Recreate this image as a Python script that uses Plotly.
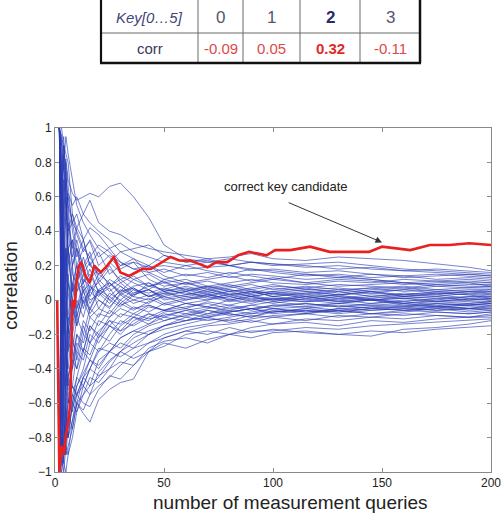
import plotly.graph_objects as go

# ---------------- data ----------------
table_keys = ["0", "1", "2", "3"]
table_corr = ["-0.09", "0.05", "0.32", "-0.11"]
correct_index = 2

x_ticks = [0, 50, 100, 150, 200]

# sample positions (number of measurement queries) for the wrong-key curves
queries = [2, 3, 4, 5, 6, 8, 10, 13, 16, 20, 25, 30, 36, 43, 50, 60, 70, 80, 90, 100,
           115, 130, 145, 160, 175, 190, 200]

cand_01 = [1, 0.9, 0.75, 0.82, 0.7, 0.62, 0.58, 0.6, 0.62, 0.6, 0.66, 0.68, 0.6, 0.48, 0.32, 0.24, 0.22, 0.2, 0.18, 0.17, 0.15, 0.14, 0.12, 0.1, 0.09, 0.1, 0.08]
cand_02 = [-1, -0.6, 0.2, 0.5, 0.62, 0.55, 0.6, 0.5, 0.58, 0.45, 0.4, 0.38, 0.33, 0.3, 0.28, 0.26, 0.24, 0.25, 0.27, 0.24, 0.23, 0.25, 0.24, 0.23, 0.21, 0.19, 0.17]
cand_03 = [1, 0.95, 0.8, 0.6, 0.4, 0.45, 0.5, 0.35, 0.42, 0.38, 0.3, 0.33, 0.28, 0.25, 0.22, 0.2, 0.22, 0.24, 0.22, 0.2, 0.21, 0.22, 0.2, 0.18, 0.17, 0.16, 0.15]
cand_04 = [-1, 0.3, 0.7, 0.55, 0.3, 0.35, 0.2, 0.3, 0.25, 0.32, 0.28, 0.2, 0.22, 0.19, 0.2, 0.18, 0.19, 0.2, 0.17, 0.18, 0.16, 0.17, 0.15, 0.14, 0.15, 0.14, 0.13]
cand_05 = [1, 0.5, -0.2, 0.1, 0.4, 0.5, 0.38, 0.28, 0.35, 0.25, 0.3, 0.22, 0.18, 0.2, 0.16, 0.2, 0.17, 0.15, 0.18, 0.16, 0.14, 0.15, 0.13, 0.14, 0.12, 0.13, 0.12]
cand_06 = [-1, -0.9, -0.3, 0.2, 0.45, 0.3, 0.42, 0.35, 0.2, 0.28, 0.15, 0.2, 0.24, 0.16, 0.12, 0.15, 0.13, 0.16, 0.14, 0.12, 0.15, 0.13, 0.12, 0.1, 0.11, 0.12, 0.11]
cand_07 = [1, 0.7, 0.9, 0.75, 0.5, 0.2, 0.3, 0.15, 0.22, 0.1, 0.18, 0.12, 0.15, 0.2, 0.14, 0.1, 0.12, 0.14, 0.11, 0.13, 0.1, 0.12, 0.11, 0.09, 0.1, 0.11, 0.10]
cand_08 = [-1, 0.2, 0.4, 0.1, 0.3, 0.15, 0.1, 0.25, 0.12, 0.18, 0.08, 0.14, 0.1, 0.06, 0.12, 0.09, 0.11, 0.08, 0.1, 0.12, 0.1, 0.08, 0.09, 0.1, 0.08, 0.09, 0.09]
cand_09 = [1, 0.8, 0.3, -0.1, 0.2, 0.35, 0.1, 0.2, 0.05, 0.15, 0.1, 0.05, 0.12, 0.08, 0.06, 0.1, 0.07, 0.09, 0.06, 0.08, 0.07, 0.09, 0.08, 0.07, 0.09, 0.08, 0.08]
cand_10 = [-1, -0.5, 0.4, 0.6, 0.25, 0.05, 0.2, 0.1, 0.18, 0.04, 0.12, 0.08, 0.02, 0.1, 0.05, 0.08, 0.05, 0.07, 0.09, 0.06, 0.08, 0.06, 0.07, 0.08, 0.06, 0.07, 0.08]
cand_11 = [1, 0.6, 0.85, 0.4, 0.1, -0.1, 0.05, 0.15, 0.02, 0.12, 0.05, 0.1, 0.04, 0.08, 0.1, 0.06, 0.08, 0.05, 0.07, 0.09, 0.06, 0.07, 0.05, 0.06, 0.08, 0.07, 0.07]
cand_12 = [-1, -0.8, -0.9, -0.4, -0.1, 0.2, 0.3, 0.1, 0.15, 0.05, 0.08, 0.12, 0.06, 0.04, 0.07, 0.03, 0.06, 0.08, 0.05, 0.04, 0.06, 0.05, 0.07, 0.05, 0.06, 0.05, 0.06]
cand_13 = [1, 0.4, 0.1, 0.3, -0.2, 0.1, -0.05, 0.12, 0.08, 0.02, 0.1, 0.04, 0.08, 0.1, 0.05, 0.07, 0.04, 0.06, 0.03, 0.05, 0.07, 0.04, 0.06, 0.07, 0.05, 0.06, 0.06]
cand_14 = [-1, 0.1, -0.3, -0.5, -0.2, 0.1, 0.2, 0.05, -0.05, 0.06, 0.02, 0.08, 0.03, 0.06, 0.02, 0.05, 0.07, 0.03, 0.05, 0.02, 0.04, 0.06, 0.04, 0.03, 0.05, 0.04, 0.05]
cand_15 = [1, 0.95, 0.6, 0.2, 0.3, 0.05, 0.12, -0.02, 0.06, 0.1, 0.0, 0.05, 0.07, 0.02, 0.06, 0.04, 0.02, 0.05, 0.06, 0.03, 0.05, 0.03, 0.04, 0.06, 0.04, 0.05, 0.05]
cand_16 = [-1, -0.7, 0.1, -0.2, 0.15, -0.1, 0.05, 0.1, 0.0, 0.03, 0.07, -0.02, 0.04, 0.06, 0.01, 0.03, 0.05, 0.02, 0.04, 0.05, 0.03, 0.05, 0.02, 0.04, 0.03, 0.05, 0.04]
cand_17 = [1, 0.3, 0.5, 0.7, 0.4, 0.2, -0.1, 0.05, 0.1, -0.05, 0.04, 0.0, 0.06, 0.02, 0.05, 0.0, 0.03, 0.05, 0.02, 0.04, 0.02, 0.03, 0.05, 0.03, 0.04, 0.03, 0.04]
cand_18 = [-1, -0.95, -0.6, -0.3, -0.4, -0.15, 0.0, -0.1, 0.05, 0.0, -0.05, 0.04, 0.0, -0.02, 0.03, 0.05, 0.01, 0.03, 0.0, 0.02, 0.04, 0.02, 0.01, 0.03, 0.02, 0.04, 0.03]
cand_19 = [1, 0.2, -0.4, -0.1, 0.1, 0.0, 0.15, -0.05, 0.08, 0.04, -0.02, 0.06, 0.02, 0.0, 0.04, 0.02, 0.0, 0.04, 0.02, 0.0, 0.03, 0.01, 0.03, 0.02, 0.01, 0.02, 0.03]
cand_20 = [-1, 0.5, 0.2, -0.15, -0.3, -0.05, -0.15, 0.02, -0.06, 0.05, 0.0, -0.04, 0.03, 0.06, 0.0, 0.02, 0.04, 0.0, 0.02, 0.04, 0.01, 0.03, 0.0, 0.02, 0.03, 0.01, 0.02]
cand_21 = [1, 0.85, 0.35, 0.0, -0.25, -0.3, -0.1, -0.2, -0.05, -0.1, 0.02, -0.03, 0.0, 0.03, -0.02, 0.01, 0.03, 0.0, 0.02, -0.01, 0.02, 0.0, 0.02, 0.01, 0.0, 0.02, 0.02]
cand_22 = [-1, -0.4, -0.7, -0.5, -0.15, -0.25, -0.3, -0.12, -0.18, -0.08, -0.1, -0.02, -0.06, -0.01, 0.02, -0.02, 0.0, 0.02, -0.01, 0.01, 0.0, 0.02, 0.0, 0.01, 0.02, 0.0, 0.01]
cand_23 = [1, -0.2, 0.1, -0.3, -0.1, -0.2, -0.05, 0.06, -0.08, 0.0, -0.04, 0.03, -0.02, 0.01, -0.03, 0.0, 0.02, -0.01, 0.01, 0.0, -0.01, 0.01, 0.0, -0.01, 0.01, 0.0, 0.01]
cand_24 = [-1, -1, -0.85, -0.6, -0.45, -0.35, -0.2, -0.25, -0.1, -0.15, -0.06, -0.1, -0.04, -0.07, -0.02, -0.05, -0.01, -0.03, 0.0, -0.02, 0.01, -0.01, 0.0, 0.01, -0.01, 0.0, 0.0]
cand_25 = [1, 0.6, 0.0, -0.4, -0.6, -0.35, -0.4, -0.2, -0.25, -0.12, -0.15, -0.08, -0.1, -0.04, -0.06, -0.02, -0.04, 0.0, -0.02, 0.01, -0.01, 0.0, -0.02, 0.0, -0.01, 0.01, 0.0]
cand_26 = [-1, -0.3, 0.3, 0.1, -0.2, -0.4, -0.25, -0.3, -0.15, -0.2, -0.1, -0.05, -0.08, -0.03, -0.06, -0.04, -0.02, -0.05, -0.03, -0.01, -0.03, -0.02, 0.0, -0.02, -0.01, -0.02, -0.01]
cand_27 = [1, 0.1, -0.5, -0.7, -0.55, -0.5, -0.3, -0.35, -0.2, -0.25, -0.15, -0.18, -0.1, -0.12, -0.07, -0.05, -0.08, -0.04, -0.06, -0.03, -0.02, -0.04, -0.02, -0.01, -0.03, -0.02, -0.01]
cand_28 = [-1, -0.85, -0.5, -0.2, -0.45, -0.6, -0.45, -0.3, -0.35, -0.22, -0.15, -0.2, -0.12, -0.08, -0.1, -0.06, -0.04, -0.07, -0.05, -0.03, -0.04, -0.02, -0.03, -0.04, -0.02, -0.03, -0.02]
cand_29 = [1, 0.7, 0.2, -0.3, -0.5, -0.65, -0.5, -0.4, -0.25, -0.3, -0.2, -0.12, -0.15, -0.1, -0.06, -0.08, -0.05, -0.03, -0.05, -0.04, -0.02, -0.04, -0.03, -0.02, -0.04, -0.03, -0.02]
cand_30 = [-1, -0.6, -0.9, -0.75, -0.6, -0.5, -0.55, -0.45, -0.35, -0.4, -0.3, -0.22, -0.18, -0.14, -0.1, -0.12, -0.08, -0.06, -0.08, -0.05, -0.04, -0.06, -0.04, -0.03, -0.04, -0.03, -0.03]
cand_31 = [1, 0.3, -0.2, -0.6, -0.8, -0.7, -0.55, -0.5, -0.4, -0.3, -0.25, -0.28, -0.2, -0.15, -0.12, -0.08, -0.1, -0.07, -0.05, -0.07, -0.05, -0.03, -0.05, -0.04, -0.03, -0.05, -0.03]
cand_32 = [-1, -0.9, -0.7, -0.85, -0.7, -0.55, -0.6, -0.45, -0.5, -0.35, -0.3, -0.25, -0.28, -0.2, -0.15, -0.12, -0.1, -0.08, -0.1, -0.06, -0.08, -0.05, -0.06, -0.05, -0.04, -0.05, -0.04]
cand_33 = [1, -0.5, -0.8, -0.6, -0.45, -0.3, -0.4, -0.28, -0.32, -0.2, -0.24, -0.15, -0.1, -0.14, -0.08, -0.1, -0.06, -0.09, -0.07, -0.05, -0.07, -0.05, -0.04, -0.06, -0.05, -0.04, -0.04]
cand_34 = [-1, -1, -0.9, -0.8, -0.65, -0.75, -0.6, -0.55, -0.45, -0.48, -0.4, -0.3, -0.22, -0.18, -0.15, -0.1, -0.12, -0.1, -0.08, -0.07, -0.06, -0.08, -0.06, -0.05, -0.06, -0.05, -0.05]
cand_35 = [1, 0.45, -0.1, -0.35, -0.5, -0.4, -0.2, -0.3, -0.15, -0.22, -0.12, -0.18, -0.14, -0.08, -0.12, -0.09, -0.06, -0.08, -0.1, -0.07, -0.05, -0.07, -0.05, -0.06, -0.04, -0.06, -0.05]
cand_36 = [-1, -0.75, -0.95, -0.7, -0.8, -0.6, -0.65, -0.5, -0.55, -0.42, -0.35, -0.3, -0.25, -0.2, -0.17, -0.14, -0.11, -0.12, -0.09, -0.1, -0.08, -0.06, -0.08, -0.07, -0.05, -0.07, -0.06]
cand_37 = [1, -0.3, -0.6, -0.8, -0.7, -0.55, -0.45, -0.5, -0.4, -0.28, -0.3, -0.22, -0.18, -0.2, -0.15, -0.12, -0.1, -0.13, -0.11, -0.09, -0.08, -0.1, -0.08, -0.09, -0.07, -0.08, -0.07]
cand_38 = [-1, -0.9, -1, -0.85, -0.9, -0.7, -0.6, -0.64, -0.55, -0.5, -0.45, -0.38, -0.32, -0.25, -0.2, -0.16, -0.14, -0.11, -0.13, -0.1, -0.12, -0.09, -0.1, -0.08, -0.09, -0.1, -0.08]
cand_39 = [1, 0.2, -0.7, -0.9, -0.75, -0.62, -0.55, -0.6, -0.62, -0.52, -0.44, -0.46, -0.38, -0.3, -0.22, -0.18, -0.15, -0.14, -0.12, -0.14, -0.11, -0.12, -0.1, -0.11, -0.09, -0.1, -0.09]
cand_40 = [-1, -0.95, -0.8, -0.9, -0.85, -0.75, -0.6, -0.66, -0.71, -0.58, -0.52, -0.48, -0.46, -0.3, -0.27, -0.2, -0.18, -0.2, -0.16, -0.14, -0.13, -0.15, -0.12, -0.13, -0.11, -0.1, -0.10]
cand_41 = [1, -0.6, -0.9, -0.7, -0.6, -0.5, -0.55, -0.45, -0.4, -0.44, -0.4, -0.36, -0.38, -0.28, -0.24, -0.22, -0.25, -0.2, -0.18, -0.18, -0.16, -0.17, -0.15, -0.14, -0.13, -0.12, -0.11]
cand_42 = [-1, -0.8, -0.95, -1, -0.9, -0.8, -0.65, -0.55, -0.5, -0.45, -0.36, -0.3, -0.34, -0.3, -0.25, -0.28, -0.23, -0.2, -0.22, -0.19, -0.18, -0.2, -0.21, -0.17, -0.16, -0.14, -0.12]
cand_43 = [1, 0.0, -0.4, -0.65, -0.8, -0.6, -0.5, -0.42, -0.35, -0.38, -0.3, -0.33, -0.28, -0.25, -0.22, -0.18, -0.2, -0.16, -0.19, -0.17, -0.19, -0.2, -0.18, -0.19, -0.17, -0.16, -0.15]
cand_44 = [-1, 0.6, 0.9, 0.7, 0.55, 0.45, 0.4, 0.3, 0.34, 0.2, 0.26, 0.22, 0.18, 0.16, 0.18, 0.14, 0.16, 0.13, 0.15, 0.14, 0.12, 0.13, 0.15, 0.13, 0.14, 0.15, 0.14]
cand_45 = [1, 1, 0.9, 0.85, 0.8, 0.5, 0.42, 0.5, 0.45, 0.4, 0.35, 0.28, 0.3, 0.32, 0.26, 0.22, 0.24, 0.2, 0.22, 0.21, 0.2, 0.18, 0.19, 0.17, 0.16, 0.15, 0.14]
cand_46 = [-1, -0.2, 0.6, 0.8, 0.65, 0.4, 0.25, 0.35, 0.2, 0.15, 0.22, 0.16, 0.12, 0.15, 0.1, 0.12, 0.08, 0.1, 0.12, 0.1, 0.09, 0.11, 0.1, 0.12, 0.11, 0.1, 0.10]
cand_47 = [1, 0.9, 0.95, 0.6, 0.3, 0.0, -0.15, 0.0, -0.1, -0.05, -0.08, 0.0, -0.05, -0.03, -0.06, -0.02, -0.04, -0.06, -0.03, -0.05, -0.07, -0.06, -0.08, -0.06, -0.07, -0.08, -0.07]
cand_48 = [-1, -0.4, -0.1, 0.3, 0.05, -0.2, -0.35, -0.15, -0.25, -0.18, -0.12, -0.14, -0.08, -0.11, -0.09, -0.06, -0.09, -0.07, -0.05, -0.08, -0.06, -0.07, -0.05, -0.04, -0.06, -0.05, -0.06]
cand_49 = [1, 0.65, 0.3, 0.5, 0.6, 0.45, 0.3, 0.2, 0.28, 0.12, 0.2, 0.1, 0.14, 0.08, 0.11, 0.05, 0.08, 0.06, 0.04, 0.07, 0.05, 0.03, 0.05, 0.02, 0.04, 0.03, 0.01]
cand_50 = [-1, -0.7, -0.4, -0.55, -0.3, 0.0, -0.1, 0.08, -0.02, 0.06, 0.1, 0.03, 0.07, 0.02, 0.04, 0.06, 0.03, 0.01, 0.03, 0.0, 0.02, -0.01, 0.01, -0.02, 0.0, -0.01, -0.01]
cand_51 = [1, 0.8, 0.5, 0.75, 0.55, 0.25, 0.35, 0.18, 0.25, 0.15, 0.22, 0.28, 0.24, 0.2, 0.26, 0.22, 0.23, 0.2, 0.22, 0.21, 0.19, 0.2, 0.18, 0.17, 0.18, 0.17, 0.16]
cand_52 = [-1, 0.4, 0.8, 0.95, 0.85, 0.7, 0.55, 0.45, 0.38, 0.3, 0.25, 0.18, 0.22, 0.12, 0.08, 0.1, 0.06, 0.03, 0.05, 0.02, 0.0, -0.02, 0.0, -0.03, -0.02, -0.03, -0.02]

# correct key candidate (red)
correct_x = [1, 2, 3, 4, 5, 6, 7, 8, 9, 10, 11, 12, 14, 16, 18, 21, 24, 27, 30, 34, 37, 40, 44, 48,
             53, 57, 62, 66, 70, 74, 79, 84, 89, 93, 97, 101, 108, 117, 126, 135, 144, 150, 157,
             163, 172, 181, 190, 200]
correct_y = [0, -1, -0.85, -0.9, -0.78, -0.72, -0.6, 0.0, -0.04, 0.12, 0.2, 0.22, 0.14, 0.1, 0.2, 0.16,
             0.2, 0.25, 0.16, 0.14, 0.16, 0.18, 0.18, 0.21, 0.25, 0.23, 0.23, 0.21, 0.19, 0.22, 0.22,
             0.26, 0.28, 0.27, 0.26, 0.29, 0.29, 0.31, 0.28, 0.28, 0.28, 0.31, 0.3, 0.29, 0.32, 0.32,
             0.33, 0.32]

candidates = [cand_01, cand_02, cand_03, cand_04, cand_05, cand_06, cand_07, cand_08, cand_09, cand_10,
              cand_11, cand_12, cand_13, cand_14, cand_15, cand_16, cand_17, cand_18, cand_19, cand_20,
              cand_21, cand_22, cand_23, cand_24, cand_25, cand_26, cand_27, cand_28, cand_29, cand_30,
              cand_31, cand_32, cand_33, cand_34, cand_35, cand_36, cand_37, cand_38, cand_39, cand_40,
              cand_41, cand_42, cand_43, cand_44, cand_45, cand_46, cand_47, cand_48, cand_49, cand_50,
              cand_51, cand_52]

# ---------------- figure ----------------
W, H = 502, 514
L, R, T, B = 55, 11, 128, 42
PW, PH = W - L - R, H - T - B
FONT = "Liberation Sans, Arial, sans-serif"


def px(xp):
    return (xp - L) / PW


def py(yp):
    return (H - B - yp) / PH


fig = go.Figure()
for c in candidates:
    fig.add_trace(go.Scatter(x=queries, y=c, mode="lines",
                             line=dict(color="rgba(40,58,178,0.7)", width=0.9),
                             hoverinfo="skip", showlegend=False))
fig.add_trace(go.Scatter(x=correct_x, y=correct_y, mode="lines",
                         line=dict(color="rgb(232,32,32)", width=2.6),
                         hoverinfo="skip", showlegend=False))

axis_common = dict(showgrid=False, zeroline=False, showline=True, linecolor="#8a8a8a",
                   linewidth=1, mirror="ticks", ticks="inside", ticklen=4,
                   tickcolor="#8a8a8a", tickfont=dict(family=FONT, size=12, color="#222"))
fig.update_xaxes(range=[0, 200], tickvals=x_ticks, **axis_common)
fig.update_yaxes(range=[-1, 1], dtick=0.2, tick0=-1, **axis_common)


def label(text, xp, yp, size, color, **kw):
    return dict(text=text, x=px(xp), y=py(yp), xref="paper", yref="paper",
                xanchor="center", yanchor="middle", showarrow=False,
                font=dict(family=FONT, size=size, color=color), **kw)


annotations = []
# axis titles
annotations.append(label("number of measurement queries", 290, 502, 19, "#222"))
annotations.append(label("correlation", 10, 286, 19, "#222", textangle=-90))
# callout
annotations.append(dict(text="correct key candidate", x=106, y=(300.7 - 187) / 172,
                        xref="x", yref="y", xanchor="center", yanchor="middle", showarrow=False,
                        font=dict(family=FONT, size=13, color="#222")))
annotations.append(dict(text="", x=150, y=0.335, ax=106.5, ay=0.57, xref="x", yref="y",
                        axref="x", ayref="y", showarrow=True, arrowhead=2, arrowsize=1.3,
                        arrowwidth=1, arrowcolor="#333"))

# table
col_edges = [101, 198, 243, 300, 360, 420]
row_edges = [0, 33, 63]
header_label = "Key[0…5]"
row_label = "corr"

shapes = []
for xe in col_edges[1:-1]:
    shapes.append(dict(type="line", xref="paper", yref="paper", x0=px(xe), x1=px(xe),
                       y0=py(row_edges[0]), y1=py(row_edges[-1]),
                       line=dict(color="#6a6a6a", width=1)))
shapes.append(dict(type="line", xref="paper", yref="paper", x0=px(col_edges[0]), x1=px(col_edges[-1]),
                   y0=py(row_edges[1]), y1=py(row_edges[1]), line=dict(color="#6a6a6a", width=1)))
shapes.append(dict(type="line", xref="paper", yref="paper", x0=px(col_edges[0]), x1=px(col_edges[0]),
                   y0=py(row_edges[0]), y1=py(row_edges[-1]), line=dict(color="#111", width=2.2)))
shapes.append(dict(type="line", xref="paper", yref="paper", x0=px(col_edges[-1]), x1=px(col_edges[-1]),
                   y0=py(row_edges[0]), y1=py(row_edges[-1]), line=dict(color="#111", width=2.5)))
shapes.append(dict(type="line", xref="paper", yref="paper", x0=px(col_edges[0] - 1), x1=px(col_edges[-1] + 1),
                   y0=py(row_edges[-1]), y1=py(row_edges[-1]), line=dict(color="#111", width=2.5)))

row1_y = (row_edges[0] + row_edges[1]) / 2 + 1
row2_y = (row_edges[1] + row_edges[2]) / 2
first_cx = (col_edges[0] + col_edges[1]) / 2
annotations.append(label(f"<i>{header_label}</i>", first_cx, row1_y, 15, "#44447a"))
annotations.append(label(row_label, first_cx, row2_y, 15, "#3a3a5a"))
for i, (k, v) in enumerate(zip(table_keys, table_corr)):
    cx = (col_edges[i + 1] + col_edges[i + 2]) / 2
    bold = i == correct_index
    annotations.append(label(f"<b>{k}</b>" if bold else k, cx, row1_y, 17,
                             "#2a2a66" if bold else "#555570"))
    annotations.append(label(f"<b>{v}</b>" if bold else v, cx, row2_y, 15,
                             "#e02a2a" if bold else "#e04848"))

fig.update_layout(width=W, height=H, margin=dict(l=L, r=R, t=T, b=B, autoexpand=False),
                  paper_bgcolor="white", plot_bgcolor="white",
                  annotations=annotations, shapes=shapes, showlegend=False,
                  font=dict(family=FONT))

fig.write_html("out.html", config={"displayModeBar": False},
               post_script="document.body.style.margin='0px';document.body.style.overflow='hidden';")
